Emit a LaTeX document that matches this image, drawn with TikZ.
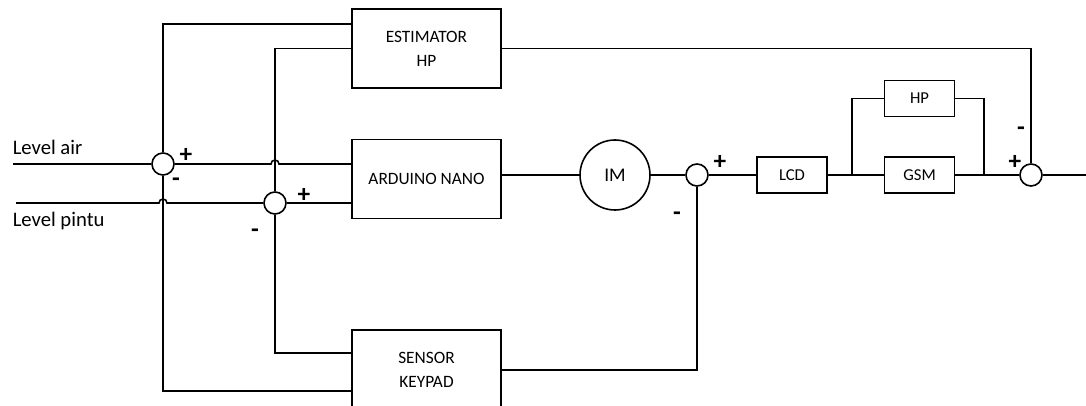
\documentclass[tikz,border=0pt]{standalone}
\usepackage{fontspec}
\setmainfont{Carlito}
\usetikzlibrary{positioning}

\begin{document}
\begin{tikzpicture}[
    x=0.75pt, y=-0.75pt,
    line width=1.2pt,
    node distance=37.5pt,
    block/.style={
        rectangle,
        draw,
        minimum width=111.75pt,
        minimum height=59.25pt,
        align=center,
        font=\fontsize{13pt}{18pt}\selectfont
    },
    smallblock/.style={
        rectangle,
        draw,
        minimum width=52.5pt,
        minimum height=27pt,
        font=\fontsize{12.5pt}{14pt}\selectfont
    },
    motor/.style={circle, draw, minimum size=52.5pt, inner sep=0pt,
        font=\fontsize{14.5pt}{17pt}\selectfont},
    summer/.style={circle, draw, minimum size=16.5pt, inner sep=0pt},
    sign/.style={font=\bfseries\fontsize{19pt}{19pt}\selectfont, inner sep=0pt},
    signal/.style={font=\fontsize{15.5pt}{18pt}\selectfont, anchor=west, inner sep=0pt}
]
    \useasboundingbox (0,0) rectangle (1086,406);

    % Controller blocks
    \node[block] (estimator) at (426.5,48.5) {ESTIMATOR\\HP};
    \node[block, below=of estimator] (arduino) {ARDUINO NANO};
    \node[block, below=82.5pt of arduino] (sensor) {SENSOR\\KEYPAD};

    % Summing points
    \node[summer] (s1) at (163,164) {};
    \node[summer] (s2) at (275,203) {};
    \node[summer] (s4) at (697,175) {};
    \node[summer] (s3) at (1031,175) {};

    % Forward path
    \node[motor] (im) at (615,175) {IM};
    \node[smallblock] (lcd) at (792,175) {LCD};
    \node[smallblock, right=42pt of lcd] (gsm) {GSM};
    \node[smallblock, above=29.25pt of gsm] (hp) {HP};

    \coordinate (inair) at (13,164);
    \coordinate (inpintu) at (16,203);
    \coordinate (split) at (852,175);
    \coordinate (merge) at (984,175);
    \coordinate (out) at (1086,175);

    % Inputs
    \node[signal] (air) at (12,147) {Level air};
    \node[signal] (pintu) at (12,221) {Level pintu};
    \draw (inair) -- (s1);
    \draw (inpintu) -- ([xshift=-3pt]s1.center |- inpintu)
        arc[start angle=180, end angle=0, radius=3pt] -- (s2);
    \draw (s1) -- ([xshift=-3pt]s2.center |- s1)
        arc[start angle=180, end angle=0, radius=3pt] -- (arduino.west |- s1);
    \draw (s2) -- (arduino.west |- s2);

    % Feedback lines
    \draw ([yshift=18.4pt]estimator.west) -| (s1);
    \draw (s1) |- ([yshift=-15.75pt]sensor.west);
    \draw (estimator.west) -| (s2);
    \draw (s2) |- ([yshift=12.75pt]sensor.west);
    \draw (sensor) -| (s4);
    \draw (estimator) -| (s3);

    % Main line
    \draw (arduino.east |- im) -- (im);
    \draw (im) -- (s4);
    \draw (s4) -- (lcd);
    \draw (lcd) -- (gsm);
    \draw (gsm) -- (s3);
    \draw (s3) -- (out);
    \draw (split) |- (hp);
    \draw (hp) -| (merge);

    % Signs
    \node[sign] at (186,155) {+};
    \node[sign] at (176,182) {-};
    \node[sign] at (304,195) {+};
    \node[sign] at (255,233) {-};
    \node[sign] at (720,162) {+};
    \node[sign] at (677,216) {-};
    \node[sign] at (1021,131) {-};
    \node[sign] at (1015,162) {+};
\end{tikzpicture}
\end{document}
